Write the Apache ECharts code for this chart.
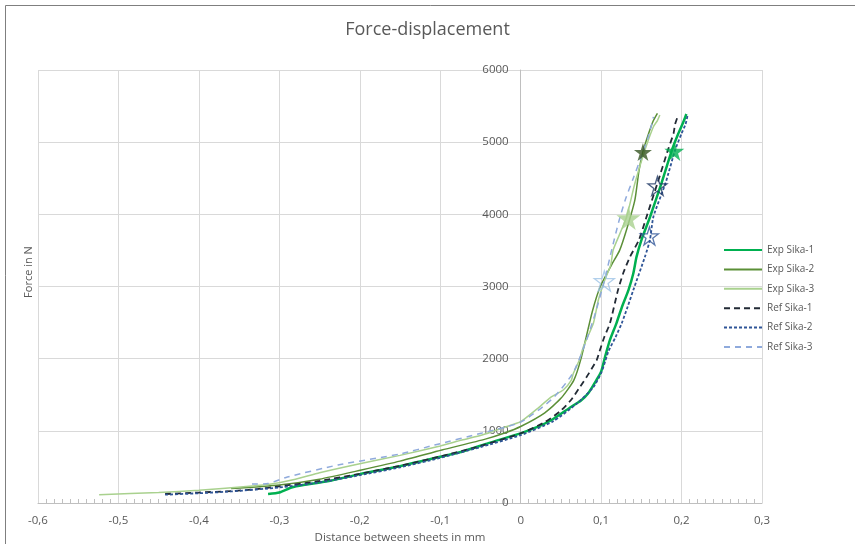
<!DOCTYPE html>
<html>
<head>
<meta charset="utf-8">
<title>Force-displacement</title>
<script src="https://cdn.jsdelivr.net/npm/echarts@6/dist/echarts.min.js"></script>
<style>
  html, body { margin: 0; padding: 0; background: #fff; }
  #main { width: 855px; height: 544px; }
</style>
</head>
<body>
<div id="main"></div>
<script>
// distance between sheets (mm) / force (N)
var expSika1X = [-0.314, -0.30, -0.285, -0.27, -0.24, -0.20, -0.15, -0.10, -0.073, -0.04, 0.0, 0.02, 0.0385, 0.063, 0.075, 0.084, 0.094, 0.100, 0.105, 0.111, 0.119, 0.126, 0.134, 0.140, 0.144, 0.150, 0.161, 0.175, 0.188, 0.196, 0.203, 0.206];
var expSika1Y = [125, 145, 215, 250, 300, 400, 510, 640, 711, 830, 965, 1050, 1150, 1334, 1420, 1520, 1700, 1820, 2030, 2260, 2490, 2720, 2950, 3180, 3410, 3640, 3970, 4430, 4890, 5120, 5300, 5390];

var expSika2X = [-0.36, -0.30, -0.25, -0.198, -0.15, -0.098, -0.044, -0.02, 0.0, 0.03, 0.05, 0.066, 0.075, 0.089, 0.099, 0.113, 0.123, 0.132, 0.142, 0.147, 0.152, 0.160, 0.165, 0.170];
var expSika2Y = [200, 250, 330, 457, 580, 734, 885, 970, 1060, 1250, 1450, 1700, 2000, 2650, 3000, 3300, 3500, 3800, 4200, 4600, 4870, 5150, 5300, 5400];

var expSika3X = [-0.524, -0.45, -0.40, -0.334, -0.314, -0.28, -0.25, -0.20, -0.15, -0.10, -0.073, -0.048, -0.02, 0.0, 0.02, 0.0385, 0.053, 0.063, 0.0655, 0.073, 0.078, 0.0904, 0.0966, 0.1046, 0.112, 0.115, 0.124, 0.1318, 0.142, 0.1545, 0.165, 0.170, 0.173];
var expSika3Y = [115, 145, 175, 235, 255, 330, 420, 545, 660, 790, 873, 942, 1050, 1127, 1300, 1473, 1566, 1704, 1797, 1981, 2166, 2490, 2813, 3090, 3300, 3506, 3750, 3967, 4430, 4891, 5214, 5300, 5377];

var refSika1X = [-0.442, -0.40, -0.36, -0.334, -0.30, -0.25, -0.20, -0.15, -0.10, -0.05, 0.0, 0.03, 0.05, 0.062, 0.074, 0.085, 0.0945, 0.098, 0.104, 0.111, 0.121, 0.128, 0.136, 0.147, 0.156, 0.170, 0.183, 0.190, 0.192, 0.196];
var refSika1Y = [125, 145, 165, 185, 230, 305, 405, 515, 645, 790, 965, 1120, 1280, 1420, 1612, 1800, 1981, 2100, 2300, 2490, 2950, 3200, 3413, 3644, 3950, 4430, 4890, 5120, 5250, 5380];

var refSika2X = [-0.442, -0.40, -0.36, -0.30, -0.25, -0.20, -0.15, -0.10, -0.05, 0.0, 0.04, 0.07, 0.09, 0.100, 0.105, 0.109, 0.118, 0.1256, 0.133, 0.140, 0.1545, 0.1607, 0.165, 0.18, 0.192, 0.200, 0.205, 0.2076];
var refSika2Y = [115, 135, 160, 215, 285, 385, 495, 625, 775, 940, 1130, 1380, 1600, 1800, 1960, 2100, 2300, 2490, 2720, 2950, 3413, 3644, 3967, 4430, 4891, 5120, 5250, 5377];

var refSika3X = [-0.334, -0.314, -0.29, -0.227, -0.15, -0.107, -0.048, 0.0, 0.04, 0.065, 0.08, 0.092, 0.104, 0.113, 0.122, 0.13, 0.14, 0.15, 0.158, 0.163, 0.165];
var refSika3Y = [262, 270, 360, 527, 680, 803, 970, 1120, 1450, 1800, 2200, 2600, 3076, 3500, 3900, 4200, 4500, 4800, 5050, 5250, 5350];

// failure points (stars)
var failNames = ['Exp Sika-1', 'Exp Sika-2', 'Exp Sika-3', 'Ref Sika-1', 'Ref Sika-2', 'Ref Sika-3'];
var failX = [0.191, 0.152, 0.134, 0.170, 0.160, 0.104];
var failY = [4878, 4864, 3950, 4393, 3700, 3076];

var xTicks = [-0.6, 0.3, 0.1];   // min, max, interval
var yTicks = [0, 6000, 1000];

var starPath = 'path://M50,0 L61,35 L98,35 L68,57 L79,91 L50,70 L21,91 L32,57 L2,35 L39,35 Z';

var gridLeft = 38, gridRight = 93;

function pairs(xs, ys) {
  return xs.map(function (x, i) { return [x, ys[i]]; });
}

function lineSeries(name, xs, ys, color, width, dash) {
  return {
    name: name,
    type: 'line',
    symbol: 'none',
    smooth: 0.2,
    data: pairs(xs, ys),
    lineStyle: { color: color, width: width, type: dash || 'solid' },
    itemStyle: { color: color },
    z: 3
  };
}

function starSeries(i, color, size, hollow) {
  return {
    name: failNames[i] + ' failure',
    type: 'scatter',
    symbol: starPath,
    symbolSize: size,
    data: [[failX[i], failY[i]]],
    itemStyle: hollow
      ? { color: 'rgba(255,255,255,0)', borderColor: color, borderWidth: 1.3 }
      : { color: color },
    z: 5
  };
}

var chart = echarts.init(document.getElementById('main'));

// y axis sits on x = 0, move it (with its labels) there
var plotWidth = 855 - gridLeft - gridRight;
var yAxisOffset = -plotWidth * (0 - xTicks[0]) / (xTicks[1] - xTicks[0]);

var option = {
  animation: false,
  textStyle: { fontFamily: 'Open Sans' },
  title: {
    text: 'Force-displacement',
    left: 'center',
    top: 16,
    textStyle: { fontSize: 18, fontWeight: 'normal', color: '#595959', fontFamily: 'Open Sans' }
  },
  graphic: [
    {
      type: 'rect',
      shape: { x: 5.5, y: 5.5, width: 1000, height: 1000 },
      style: { fill: 'none', stroke: '#7f7f7f', lineWidth: 1 },
      silent: true
    },
    {
      type: 'text',
      left: 23,
      top: 'middle',
      rotation: Math.PI / 2,
      style: { text: 'Force in N', fill: '#595959', font: '11px "Open Sans"' }
    }
  ],
  legend: {
    orient: 'vertical',
    left: 718,
    top: 240,
    itemWidth: 38,
    itemHeight: 10,
    itemGap: 9.4,
    itemStyle: { opacity: 0 },
    textStyle: { fontSize: 10, color: '#595959' },
    data: ['Exp Sika-1', 'Exp Sika-2', 'Exp Sika-3', 'Ref Sika-1', 'Ref Sika-2', 'Ref Sika-3']
  },
  grid: { left: gridLeft, right: gridRight, top: 70, bottom: 41, containLabel: false, outerBoundsMode: 'none' },
  xAxis: {
    type: 'value',
    min: xTicks[0],
    max: xTicks[1],
    interval: xTicks[2],
    name: 'Distance between sheets in mm',
    nameLocation: 'middle',
    nameGap: 29,
    nameTextStyle: { fontSize: 11.5, color: '#595959' },
    axisLine: { lineStyle: { color: '#bfbfbf' } },
    axisTick: { show: false, inside: true },
    minorTick: { show: true, splitNumber: 10, length: 4, lineStyle: { color: '#bfbfbf' } },
    splitLine: { show: true, lineStyle: { color: '#d9d9d9' } },
    axisLabel: {
      color: '#595959',
      fontSize: 11.5,
      margin: 12,
      formatter: function (v) {
        if (Math.abs(v) < 1e-9) return '0';
        return (Math.round(v * 10) / 10).toFixed(1).replace('.', ',');
      }
    }
  },
  yAxis: {
    type: 'value',
    min: yTicks[0],
    max: yTicks[1],
    interval: yTicks[2],
    offset: yAxisOffset,
    axisLine: { show: true, onZero: false, lineStyle: { color: '#bfbfbf' } },
    axisTick: { show: false },
    splitLine: { show: true, lineStyle: { color: '#d9d9d9' } },
    axisLabel: {
      color: '#595959',
      fontSize: 11.5,
      margin: 12,
      formatter: function (v) { return String(v); }
    }
  },
  series: [
    lineSeries('Exp Sika-1', expSika1X, expSika1Y, '#00b050', 2.5),
    lineSeries('Exp Sika-2', expSika2X, expSika2Y, '#5b8f37', 1.5),
    lineSeries('Exp Sika-3', expSika3X, expSika3Y, '#a9d18e', 1.5),
    lineSeries('Ref Sika-1', refSika1X, refSika1Y, '#222a35', 1.8, [6, 4]),
    lineSeries('Ref Sika-2', refSika2X, refSika2Y, '#2f5597', 1.8, [3, 2]),
    lineSeries('Ref Sika-3', refSika3X, refSika3Y, '#8faadc', 1.5, [6, 5]),
    starSeries(0, '#00b050', 20, false),
    starSeries(1, '#375623', 18, false),
    starSeries(2, '#a9d18e', 24, false),
    starSeries(3, '#1f3864', 19, true),
    starSeries(4, '#2f5597', 18, true),
    starSeries(5, '#9dc3e6', 20, true)
  ]
};

chart.setOption(option);
</script>
</body>
</html>
